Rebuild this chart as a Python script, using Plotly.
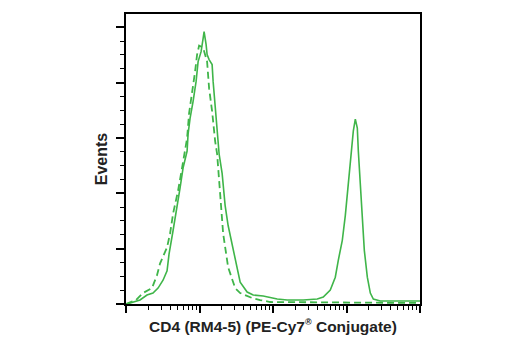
import plotly.graph_objects as go

# Solid histogram (CD4 stained)
solid_x = [10.3, 15.5, 19.3, 23.3, 27.3, 31.9, 36.2, 38.5, 43.7, 49.5, 54.4, 59.8, 67.8, 69.9,
           74.5, 81.8, 89.9, 95.7, 105.1, 111.9, 115.5, 123.0, 126.9, 135.1, 148.5, 153.2,
           163.2, 173.7, 184.9, 203.2, 223.3, 245.2, 278.0, 305.5, 357.5, 445.0, 537.3,
           735.5, 1141, 1561, 2579, 4001, 4830, 6017, 7039, 7731, 8768, 9632, 10581, 11625,
           12376, 13183, 14033, 14481, 15417, 16420, 17479, 19205, 21098, 23181, 28875, 100000]
solid_y = [0, 3.6, 8.1, 9.9, 14.4, 21.5, 30.0, 45.0, 66.4, 87.1, 105.0, 123.0, 138.2, 153.5,
           167.9, 183.1, 201.1, 219.0, 228.0, 239.7, 246.0, 234.3, 225.3, 220.8, 216.3, 201.1,
           180.4, 156.2, 135.5, 118.0, 88.9, 70.9, 53.0, 39.5, 19.7, 10.8, 8.1,
           7.2, 4.5, 3.6, 3.6, 4.5, 6.3, 12.6, 24.2, 39.5, 57.5, 79.9, 111.3, 138.2,
           156.2, 167.0, 158.9, 138.2, 108.6, 75.4, 48.5, 24.2, 9.9, 4.5, 2.7, 2.7]

# Dashed histogram (control)
dash_x = [10, 13.7, 17.0, 22.6, 26.4, 29.1, 36.2, 39.8, 43.7, 51.1, 57.9, 67.8, 72.2, 79.3,
          87.1, 92.7, 98.8, 111.9, 126.9, 135.1, 148.5, 163.2, 173.7, 190.9, 209.7, 245.2,
          305.5, 357.5, 520.8, 669.4, 916.1, 100000]
dash_y = [0, 3.6, 9.9, 14.4, 26.0, 36.8, 51.2, 63.7, 81.7, 102.3, 123.0, 149.9, 172.4, 189.4,
          210.1, 225.3, 233.4, 231.6, 219.0, 194.8, 174.1, 147.2, 135.5, 99.6, 63.7, 33.2,
          14.4, 9.9, 5.4, 3.6, 1.8, 0.9]

x_major = [10, 100, 1000, 10000, 100000]
x_minor = [m * d for d in [10, 100, 1000, 10000] for m in range(2, 10)]

green = "#3fb549"
font_family = "Liberation Sans Narrow, Arial Narrow, Liberation Sans, Arial, sans-serif"

fig = go.Figure()
fig.add_trace(go.Scatter(x=dash_x, y=dash_y, mode="lines",
                         line=dict(color=green, width=1.8, dash="7px,4px"),
                         showlegend=False))
fig.add_trace(go.Scatter(x=solid_x, y=solid_y, mode="lines",
                         line=dict(color=green, width=1.6),
                         showlegend=False))

fig.update_layout(
    width=520, height=350,
    margin=dict(l=126, r=100, t=12, b=46),
    paper_bgcolor="white", plot_bgcolor="white",
    font=dict(family=font_family, color="#222222"),
)
fig.update_xaxes(
    type="log", range=[1, 5.0],
    showgrid=False, zeroline=False,
    showline=True, linecolor="black", linewidth=2, mirror=True,
    tickmode="array", tickvals=x_major, showticklabels=False,
    ticks="outside", ticklen=7, tickwidth=1.5, tickcolor="black",
    minor=dict(tickmode="array", tickvals=x_minor, ticks="outside", ticklen=4,
               tickwidth=1.2, tickcolor="black", showgrid=False),
    title=dict(text="<b>CD4 (RM4-5) (PE-Cy7<sup><span style='font-size:9px'>®</span></sup> Conjugate)</b>",
               font=dict(size=15.5, family=font_family, color="#222222"), standoff=9),
)
fig.update_yaxes(
    range=[0, 262],
    showgrid=False, zeroline=False,
    showline=True, linecolor="black", linewidth=2, mirror=True,
    dtick=50, tick0=0, showticklabels=False,
    ticks="outside", ticklen=8, tickwidth=1.5, tickcolor="black",
    minor=dict(dtick=12.5, ticks="outside", ticklen=4, tickwidth=1.2,
               tickcolor="black", showgrid=False),
    title=dict(text="<b>Events</b>",
               font=dict(size=16, family=font_family, color="#222222"), standoff=4),
)

fig.write_html("out.html")
